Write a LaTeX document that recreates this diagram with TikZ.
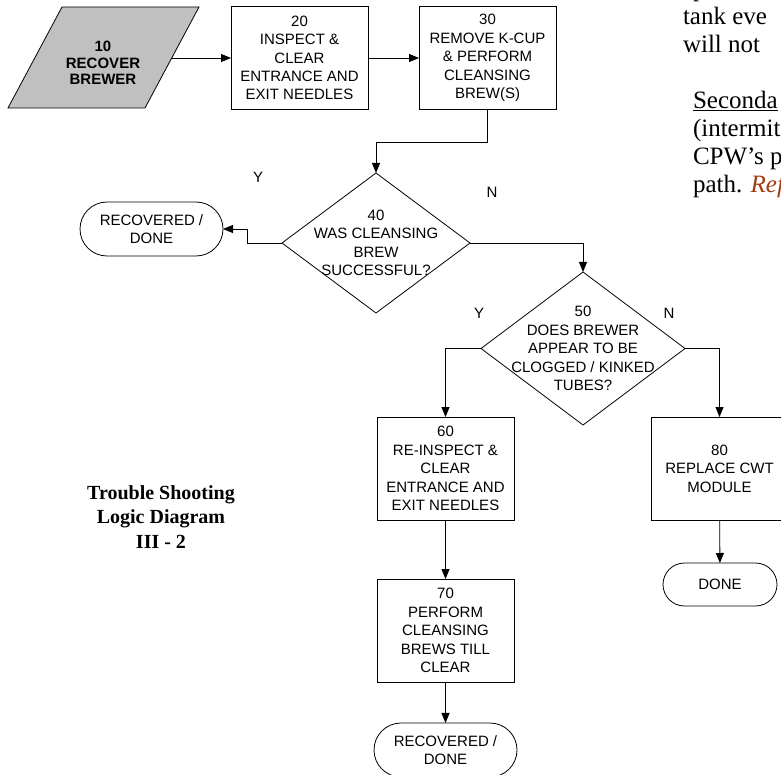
\documentclass[tikz,border=0pt]{standalone}
\usepackage{fontspec}
\setmainfont{Liberation Serif}
\newfontfamily\arial{Liberation Sans}
\usetikzlibrary{arrows.meta,shapes.geometric,shapes.misc}
\definecolor{boxgray}{HTML}{C0C0C0}
\definecolor{refred}{HTML}{A33B10}

\begin{document}
\begin{tikzpicture}[x=1pt,y=-1pt,
  every node/.style={inner sep=0pt, outer sep=0pt},
  flowtext/.style={font=\arial\fontsize{15}{18.4}\selectfont, align=center},
  procbox/.style={flowtext, draw, line width=0.8pt, rectangle,
    minimum width=137pt, minimum height=103pt},
  decision/.style={draw, line width=0.8pt, diamond},
  terminal/.style={flowtext, draw, line width=0.8pt, rounded rectangle},
  arr/.style={line width=0.8pt, -{Triangle[length=10pt,width=8pt]}},
  branchlabel/.style={font=\arial\fontsize{15}{18}\selectfont},
  bodytext/.style={font=\fontsize{25}{28}\selectfont, anchor=base west},
  title/.style={font=\bfseries\fontsize{20}{24.5}\selectfont, align=center}
]
\clip (0,0) rectangle (781,775);

% 10: start (parallelogram)
\draw[fill=boxgray, line width=0.8pt] (62,7) -- (199,7) -- (145,108) -- (8,108) -- cycle;
\node[font=\arial\bfseries\fontsize{15}{16.5}\selectfont, align=center] (n10) at (103,63)
  {10\\RECOVER\\BREWER};
\coordinate (n10e) at (172,58);

% process boxes
\node[procbox] (n20) at (299.5,58) {20\\INSPECT \&\\CLEAR\\ENTRANCE AND\\EXIT NEEDLES};
\node[procbox] (n30) at (487.5,58) {30\\REMOVE K-CUP\\\& PERFORM\\CLEANSING\\BREW(S)};

% 40: decision
\node[decision, minimum width=188pt, minimum height=140pt] (n40) at (376,243) {};
\node[flowtext] (t40) at (n40) {40\\WAS CLEANSING\\BREW\\SUCCESSFUL?};
\node[terminal, minimum width=143pt, minimum height=54pt] (n41) at (151.5,229) {RECOVERED /\\DONE};

% 50: decision
\node[decision, minimum width=204pt, minimum height=153pt] (n50) at (583,348.5) {};
\node[flowtext] (t50) at (n50) {50\\DOES BREWER\\APPEAR TO BE\\CLOGGED / KINKED\\TUBES?};

\node[procbox] (n60) at (445.5,468.5) {60\\RE-INSPECT \&\\CLEAR\\ENTRANCE AND\\EXIT NEEDLES};
\node[procbox] (n70) at (445.5,630.5) {70\\PERFORM\\CLEANSING\\BREWS TILL\\CLEAR};
\node[terminal, minimum width=143pt, minimum height=54pt] (n71) at (445.5,750) {RECOVERED /\\DONE};

\node[procbox] (n80) at (719.5,468.5) {80\\REPLACE CWT\\MODULE};
\node[terminal, minimum width=114pt, minimum height=43pt] (n81) at (720,584.5) {DONE};

% branch labels
\node[branchlabel] (y40) at (258,177) {Y};
\node[branchlabel] (no40) at (492,192) {N};
\node[branchlabel] (y50) at (479,313) {Y};
\node[branchlabel] (no50) at (669,313) {N};

% connectors
\draw[arr] (n10e) -- (n20.west);
\draw[arr] (n20.east) -- (n30.west);
\draw[arr] (n30.south) -- ++(0,33) -| (n40.north);
\draw[arr] (n40.west) -- ++(-35,0) |- (n41.east);
\draw[arr] (n40.east) -| (n50.north);
\draw[arr] (n50.west) -| (n60.north);
\draw[arr] (n50.east) -| (n80.north);
\draw[arr] (n60) -- (n70);
\draw[arr] (n70) -- (n71);
\draw[arr] (n80) -- (n81);

% title
\node[title] (ttl) at (161,517) {Trouble Shooting\\Logic Diagram\\III - 2};

% running text beside the chart
\node[bodytext] (l1) at (693,-3) {p};
\node[bodytext] (l2) at (683,25) {tank eve};
\node[bodytext] (l3) at (683,53) {will not};
\node[bodytext] (l4) at (693,109) {\underline{Seconda}};
\node[bodytext] (l5) at (693,137) {(intermit};
\node[bodytext] (l6) at (693,165) {CPW’s p};
\node[bodytext] (l7) at (693,193) {path. \textcolor{refred}{\textit{Ref}}};
\end{tikzpicture}
\end{document}
